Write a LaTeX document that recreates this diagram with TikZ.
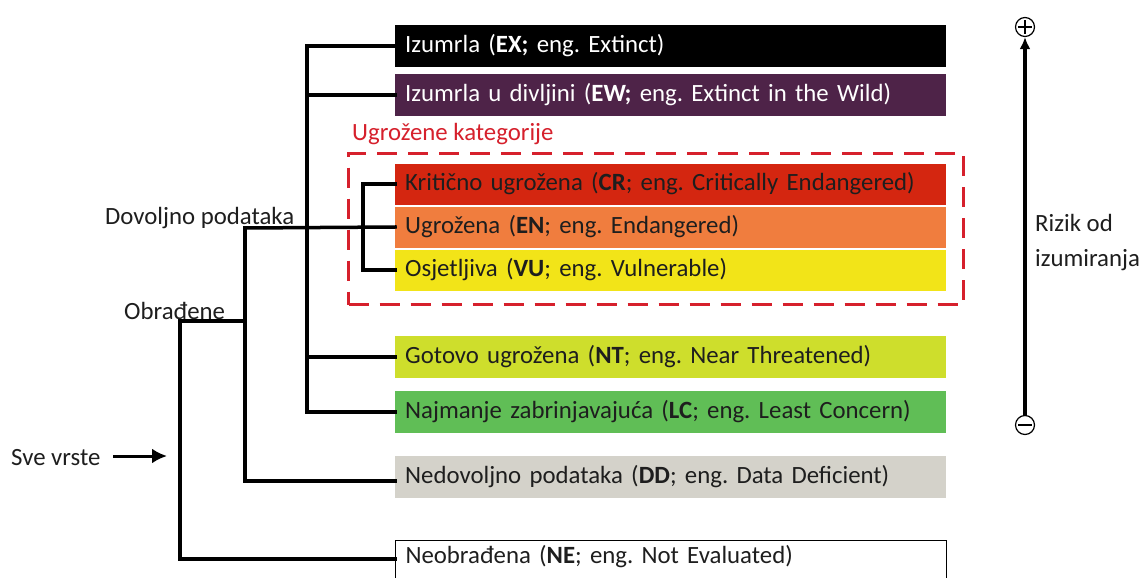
\documentclass[tikz,border=0pt]{standalone}
\usepackage{fontspec}
\setmainfont{Carlito}
\usetikzlibrary{arrows.meta}
\frenchspacing
\definecolor{cEX}{RGB}{0,0,0}
\definecolor{cEW}{RGB}{78,35,72}
\definecolor{cCR}{RGB}{212,38,16}
\definecolor{cEN}{RGB}{240,125,62}
\definecolor{cVU}{RGB}{242,228,24}
\definecolor{cNT}{RGB}{206,222,44}
\definecolor{cLC}{RGB}{96,190,86}
\definecolor{cDD}{RGB}{212,210,202}
\definecolor{cRed}{RGB}{214,32,44}
\definecolor{cTxt}{RGB}{30,30,30}
\tikzset{
  bar/.style={rectangle, anchor=west, minimum width=551pt, minimum height=42pt,
    text width=531pt, align=left, inner xsep=10pt, inner ysep=0pt,
    font=\fontsize{24.8}{28}\selectfont, text=cTxt},
  tree/.style={line width=3.5pt, line join=miter, line cap=rect},
  lbl/.style={font=\fontsize{24.8}{28}\selectfont, text=cTxt, inner sep=0pt},
}
\begin{document}
\begin{tikzpicture}[x=1pt,y=-1pt]
\useasboundingbox (0,0) rectangle (1146,578);
\clip (0,0) rectangle (1146,578);
\fill[white] (0,0) rectangle (1146,578);
% bars
\node[bar, fill=cEX, text=white] (ex) at (395,46) {Izumrla (\textbf{EX;} eng. Extinct)};
\node[bar, fill=cEW, text=white] (ew) at (395,95) {Izumrla u divljini (\textbf{EW;} eng. Extinct in the Wild)};
\node[bar, fill=cCR, minimum height=41pt] (cr) at (395,184) {Kritično ugrožena (\textbf{CR}; eng. Critically Endangered)};
\node[bar, fill=cEN, minimum height=41pt] (en) at (395,227) {Ugrožena (\textbf{EN}; eng. Endangered)};
\node[bar, fill=cVU, minimum height=41pt] (vu) at (395,270) {Osjetljiva (\textbf{VU}; eng. Vulnerable)};
\node[bar, fill=cNT] (nt) at (395,357) {Gotovo ugrožena (\textbf{NT}; eng. Near Threatened)};
\node[bar, fill=cLC] (lc) at (395,412) {Najmanje zabrinjavajuća (\textbf{LC}; eng. Least Concern)};
\node[bar, fill=cDD] (dd) at (395,477) {Nedovoljno podataka (\textbf{DD}; eng. Data Deficient)};
\node[bar, draw=black, line width=1pt, fill=white, minimum height=46pt, anchor=north west] (ne) at (395,540) {\raisebox{0pt}[0pt][0pt]{Neobrađena (\textbf{NE}; eng. Not Evaluated)}};
% dashed group
\node[draw=cRed, line width=3pt, dash pattern=on 20pt off 11pt, rectangle, anchor=north west,
  minimum width=615pt, minimum height=151pt, inner sep=0pt] (grp) at (347,152) {};
\node[lbl, text=cRed, anchor=base west] (grplbl) at (352,140) {Ugrožene kategorije};
% junction coordinates
\coordinate (j1) at (307,46);
\coordinate (j1b) at (307,412);
\coordinate (j1c) at (307,95);
\coordinate (j1d) at (307,357);
\coordinate (j2) at (363,184);
\coordinate (j2b) at (363,270);
\coordinate (j3) at (245,228);
\coordinate (j3b) at (245,481);
\coordinate (j4) at (180,321);
\coordinate (j4b) at (180,559);
\coordinate (j3m) at (245,321);
% tree
\draw[tree] (ex.west) -- (j1) -- (j1b) -- (lc.west);
\draw[tree] (j1c) -- (ew.west);
\draw[tree] (j1d) -- (nt.west);
\draw[tree] (cr.west) -- (j2) -- (j2b) -- (vu.west);
\draw[tree] (j3) -- (en.west);
\draw[tree] (j3) -- (j3b) -- (dd.west |- j3b);
\draw[tree] (j3m) -- (j4) -- (j4b) -- (ne.west |- j4b);
% labels
\node[lbl, anchor=base west] (dov) at (105,224) {Dovoljno podataka};
\node[lbl, anchor=base west] (obr) at (124,319) {Obrađene};
\node[lbl, anchor=west] (sve) at (11,458) {Sve vrste};
\coordinate (sveend) at (167,456);
\draw[line width=3pt, -{Latex[length=15pt,width=15pt]}] (113,456) -- (sveend);
% risk axis
\node[draw, circle, line width=1.2pt, minimum size=19pt, inner sep=0pt] (plus) at (1025,27) {};
\draw[line width=1.2pt] ([xshift=-7pt]plus.center) -- ([xshift=7pt]plus.center) ([yshift=-7pt]plus.center) -- ([yshift=7pt]plus.center);
\node[draw, circle, line width=1.2pt, minimum size=19pt, inner sep=0pt] (minus) at (1025,425) {};
\draw[line width=1.2pt] ([xshift=-7pt]minus.center) -- ([xshift=7pt]minus.center);
\draw[line width=3.5pt, -{Latex[length=12pt,width=11pt]}] (minus.north) -- (plus.south);
\node[lbl, anchor=base west, align=left] (risk) at (1035,266) {Rizik od\\[7pt]izumiranja};
\end{tikzpicture}
\end{document}
